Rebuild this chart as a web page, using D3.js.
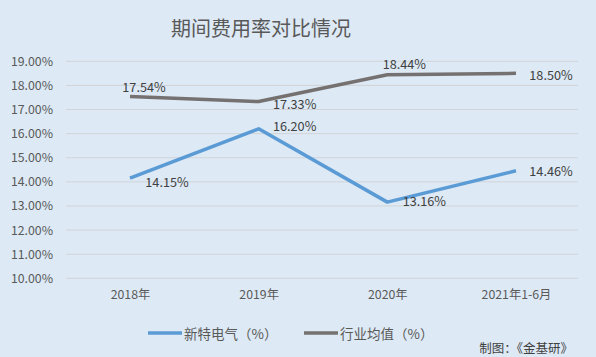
<!DOCTYPE html>
<html><head><meta charset="utf-8">
<script src="https://cdn.jsdelivr.net/npm/d3@7"></script>
<style>html,body{margin:0;padding:0;background:#dde9f5;}svg{display:block;}</style>
</head><body>
<svg id="c" width="596" height="357"></svg>
<script>
const categories = ["2018年","2019年","2020年","2021年1-6月"];
const seriesNames = ["新特电气（%）","行业均值（%）"];
const xinte = [14.15, 16.20, 13.16, 14.46];
const industry = [17.54, 17.33, 18.44, 18.50];
const yTicks = [10,11,12,13,14,15,16,17,18,19];
const colors = ["#5b9bd5","#767171"];
// label offsets [dx, dy] relative to point
const offX = [[37,3],[36,-3],[37,-2],[35,0]];
const offI = [[14,-10],[36,2],[17,-11],[35,1]];

const svg = d3.select("#c");
const font = "'Noto Sans CJK SC','Noto Sans',sans-serif";
svg.append("rect").attr("width",596).attr("height",357).attr("fill","#dde9f5");

const x = d3.scalePoint().domain(categories).range([130,516]);
const y = d3.scaleLinear().domain([10,19]).range([278.3,61.3]);

// gridlines
svg.append("g").selectAll("line").data(yTicks).join("line")
  .attr("x1",66).attr("x2",578)
  .attr("y1",d=>y(d)).attr("y2",d=>y(d))
  .attr("stroke","#d0d4d8").attr("stroke-width",1);

// y axis labels
const yAxis = d3.axisLeft(y).tickValues(yTicks).tickFormat(d=>d3.format(".2f")(d)+"%").tickSize(0).tickPadding(0);
const gy = svg.append("g").attr("transform","translate(53,0)").call(yAxis);
gy.select(".domain").remove();
gy.selectAll("text").attr("fill","#595959").style("font-family",font).style("font-size","12.3px");

// x axis labels
const xAxis = d3.axisBottom(x).tickSize(0).tickPadding(0);
const gx = svg.append("g").attr("transform","translate(0,290)").call(xAxis);
gx.select(".domain").remove();
gx.selectAll("text").attr("fill","#595959").style("font-family",font).style("font-size","12.3px");

const line = d3.line().x((d,i)=>x(categories[i])).y(d=>y(d));
[industry, xinte].forEach((s,k)=>{
  const c = k===0 ? colors[1] : colors[0];
  svg.append("path").datum(s).attr("d",line).attr("fill","none")
    .attr("stroke",c).attr("stroke-width",3.5).attr("stroke-linejoin","round");
});

function labels(s, off){
  svg.append("g").selectAll("text").data(s).join("text")
    .attr("x",(d,i)=>x(categories[i])+off[i][0])
    .attr("y",(d,i)=>y(d)+off[i][1])
    .attr("text-anchor","middle").attr("dominant-baseline","central")
    .attr("fill","#404040").style("font-family",font).style("font-size","12.7px")
    .text(d=>d3.format(".2f")(d)+"%");
}
labels(xinte, offX);
labels(industry, offI);

// title
svg.append("text").attr("x",261).attr("y",27).attr("text-anchor","middle")
  .attr("dominant-baseline","central").attr("fill","#595959")
  .style("font-family",font).style("font-size","20px").text("期间费用率对比情况");

// legend
const leg = [{x:148, name:seriesNames[0], c:colors[0]},{x:304, name:seriesNames[1], c:colors[1]}];
leg.forEach(l=>{
  svg.append("line").attr("x1",l.x).attr("x2",l.x+34).attr("y1",333).attr("y2",333)
    .attr("stroke",l.c).attr("stroke-width",3.5);
  svg.append("text").attr("x",l.x+36).attr("y",333).attr("dominant-baseline","central")
    .attr("fill","#595959").style("font-family",font).style("font-size","13.5px").text(l.name);
});

svg.append("text").attr("x",573).attr("y",347).attr("text-anchor","end")
  .attr("dominant-baseline","central").attr("fill","#404040")
  .style("font-family",font).style("font-size","12.5px").text("制图：《金基研》");
</script>
</body></html>
